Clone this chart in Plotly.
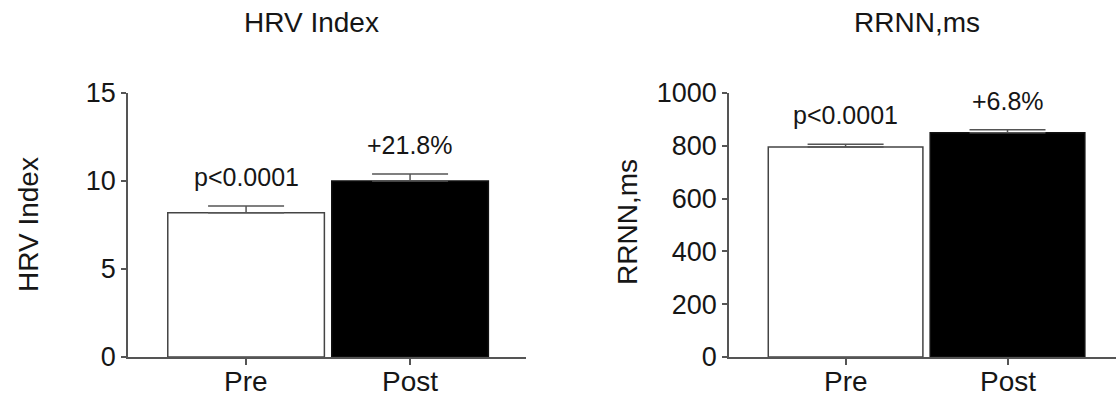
import plotly.graph_objects as go

groups = ["Pre", "Post"]
hrv_mean = [8.2, 10.0]
hrv_sem = [0.38, 0.40]
rrnn_mean = [795, 849]
rrnn_sem = [11, 12]
hrv_notes = ["p<0.0001", "+21.8%"]
rrnn_notes = ["p<0.0001", "+6.8%"]
hrv_ticks = [0, 5, 10, 15]
rrnn_ticks = [0, 200, 400, 600, 800, 1000]
fills = ["white", "black"]
outlines = ["#444444", "#111111"]

FONT = "Arial, Liberation Sans, sans-serif"
TXT = "#161616"
AX = "#555555"

fig = go.Figure()

panels = [
    dict(x="x", y="y", mean=hrv_mean, sem=hrv_sem, notes=hrv_notes),
    dict(x="x2", y="y2", mean=rrnn_mean, sem=rrnn_sem, notes=rrnn_notes),
]

for p in panels:
    fig.add_trace(go.Bar(
        x=groups, y=p["mean"], xaxis=p["x"], yaxis=p["y"],
        width=0.955,
        marker=dict(color=fills, line=dict(color=outlines, width=1.5)),
        error_y=dict(type="data", symmetric=False, array=p["sem"],
                     arrayminus=[0] * len(p["sem"]),
                     color=AX, thickness=1.5, width=38),
        showlegend=False, hoverinfo="skip",
    ))
    for g, m, s, t in zip(groups, p["mean"], p["sem"], p["notes"]):
        fig.add_annotation(x=g, y=m + s, xref=p["x"], yref=p["y"], text=t,
                           showarrow=False, xanchor="center", yanchor="middle",
                           yshift=29,
                           font=dict(family=FONT, size=25, color=TXT))
    # category labels under the x axis (placed close to the axis as in the reference)
    for g in groups:
        fig.add_annotation(x=g, y=1 - 381 / 396, xref=p["x"], yref="paper",
                           text=g, showarrow=False, xanchor="center",
                           yanchor="middle",
                           font=dict(family=FONT, size=28, color=TXT))

common_x = dict(type="category", showline=True, linecolor=AX, linewidth=1.5,
                ticks="outside", ticklen=6, tickcolor=AX, tickwidth=1.5,
                showgrid=False, zeroline=False, automargin=False,
                showticklabels=False)
common_y = dict(showline=True, linecolor=AX, linewidth=1.5,
                ticks="outside", ticklen=5, tickcolor=AX, tickwidth=1.5,
                showgrid=False, zeroline=False, automargin=False,
                tickfont=dict(family=FONT, size=27, color=TXT))

fig.update_layout(
    width=1116, height=396,
    margin=dict(l=0, r=0, t=0, b=0, pad=0),
    paper_bgcolor="white", plot_bgcolor="white",
    bargap=0.05,
    xaxis=dict(common_x, domain=[128 / 1116, 526 / 1116], range=[-0.72, 1.707],
               anchor="y"),
    yaxis=dict(common_y, domain=[39 / 396, 303 / 396], range=[0, 15],
               tickvals=hrv_ticks, anchor="x"),
    xaxis2=dict(common_x, domain=[729 / 1116, 1.0], range=[-0.72, 1.67],
                anchor="y2"),
    yaxis2=dict(common_y, domain=[39 / 396, 303 / 396], range=[0, 1000],
                tickvals=rrnn_ticks, anchor="x2"),
)

# panel titles
fig.add_annotation(x=312 / 1116, y=1 - 23 / 396, xref="paper", yref="paper",
                   text="HRV Index", showarrow=False,
                   xanchor="center", yanchor="middle",
                   font=dict(family=FONT, size=28, color=TXT))
fig.add_annotation(x=917 / 1116, y=1 - 22 / 396, xref="paper", yref="paper",
                   text="RRNN,ms", showarrow=False,
                   xanchor="center", yanchor="middle",
                   font=dict(family=FONT, size=28, color=TXT))
# y-axis titles
fig.add_annotation(x=28 / 1116, y=1 - 225 / 396, xref="paper", yref="paper",
                   text="HRV Index", showarrow=False, textangle=-90,
                   xanchor="center", yanchor="middle",
                   font=dict(family=FONT, size=28, color=TXT))
fig.add_annotation(x=628 / 1116, y=1 - 222 / 396, xref="paper", yref="paper",
                   text="RRNN,ms", showarrow=False, textangle=-90,
                   xanchor="center", yanchor="middle",
                   font=dict(family=FONT, size=28, color=TXT))

fig.write_html("out.html")
